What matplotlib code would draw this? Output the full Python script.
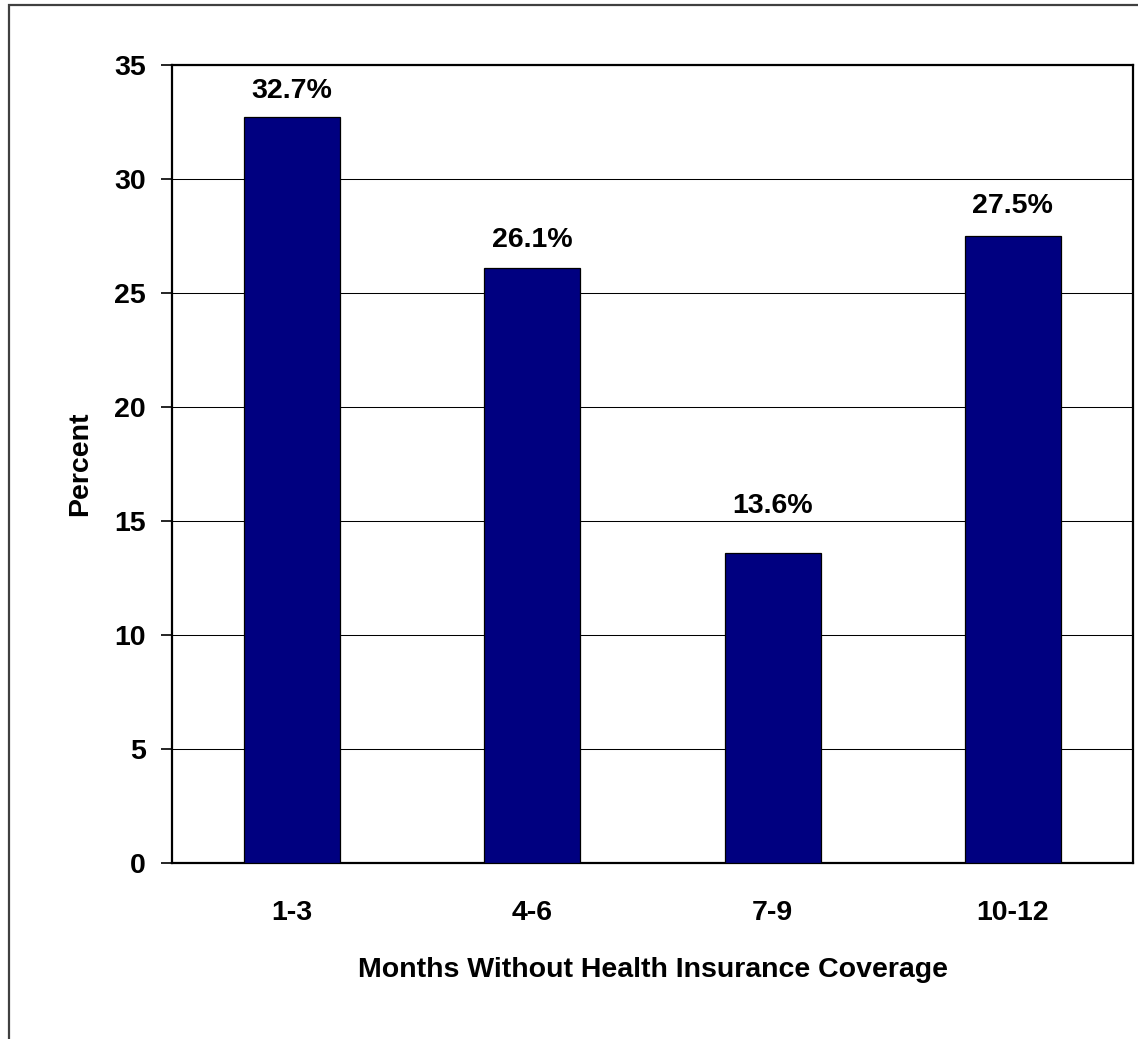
import matplotlib
matplotlib.use("Agg")
import matplotlib.pyplot as plt
from matplotlib.patches import Rectangle

# Share of uninsured spells by length
categories = ["1-3", "4-6", "7-9", "10-12"]
percents = [32.7, 26.1, 13.6, 27.5]
yticks = [0, 5, 10, 15, 20, 25, 30, 35]

# vertical offset (points) of each value label above its bar
label_offsets = [10, 11, 24.5, 12]

plt.rcParams["font.family"] = ["Liberation Sans", "DejaVu Sans"]
plt.rcParams["font.weight"] = "bold"

W, H = 1138, 1039
fig = plt.figure(figsize=(W / 100, H / 100), dpi=100)
fig.patch.set_facecolor("white")

# outer chart frame
fig.patches.append(Rectangle((9 / W, -0.2), 1.5, (H - 5) / H + 0.2,
                             transform=fig.transFigure, fill=False,
                             edgecolor="#404040", linewidth=1.6))

ax = fig.add_axes([172 / W, (H - 862.7) / H, (1133 - 172) / W, (862.7 - 65) / H])

x = list(range(len(categories)))
bars = ax.bar(x, percents, width=0.4, color="#000080", edgecolor="black",
              linewidth=0.9, zorder=3)

for rect, val, off in zip(bars, percents, label_offsets):
    ax.annotate(f"{val:.1f}%", (rect.get_x() + rect.get_width() / 2, val),
                xytext=(0, off), textcoords="offset points",
                ha="center", va="bottom", fontsize=20.5, fontweight="bold")

ax.set_xlim(-0.5, 3.5)
ax.set_ylim(0, 35)
ax.set_yticks(yticks)
ax.set_xticks(x)
ax.set_xticklabels(categories)
ax.yaxis.grid(True, color="black", linewidth=0.75, zorder=0)
ax.set_axisbelow(True)

ax.tick_params(axis="y", length=8, width=1.2, pad=11, labelsize=20.5)
ax.tick_params(axis="x", length=0, pad=27, labelsize=20.5)
for lab in ax.get_xticklabels() + ax.get_yticklabels():
    lab.set_fontweight("bold")

for s in ax.spines.values():
    s.set_linewidth(1.6)
    s.set_color("black")

ax.set_ylabel("Percent", fontsize=20.5, fontweight="bold", labelpad=15)
ax.set_xlabel("Months Without Health Insurance Coverage", fontsize=20.5,
              fontweight="bold", labelpad=22)

fig.savefig("out.png", dpi=100, facecolor="white")
